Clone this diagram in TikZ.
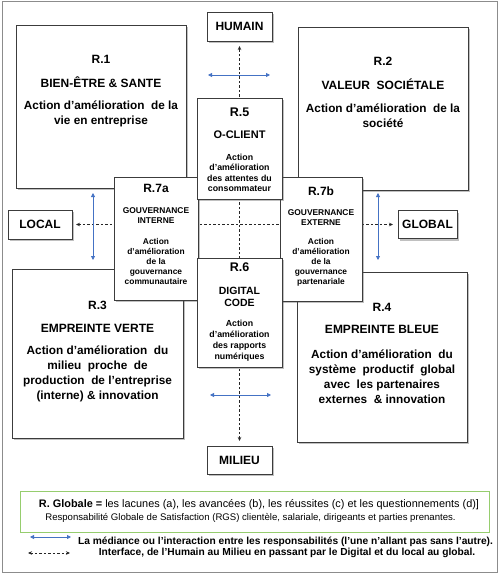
\documentclass[tikz,border=0pt]{standalone}
\usepackage{fontspec}
\setmainfont{Liberation Sans}
\usetikzlibrary{shadows,arrows.meta}
\definecolor{boxc}{RGB}{60,60,60}
\definecolor{blueA}{RGB}{68,114,196}
\definecolor{greenL}{RGB}{150,205,110}
\definecolor{frameC}{RGB}{140,140,140}
\newcommand\myfs[2]{\fontsize{#1}{#2}\selectfont}
\tikzset{
  box/.style={draw=boxc, line width=0.8pt, fill=white, inner sep=0pt, outer sep=0pt,
    drop shadow={shadow xshift=2pt, shadow yshift=-2pt, opacity=0.35, fill=black!70}},
  tx/.style={inner sep=0pt, align=center, font=\bfseries},
  bluearr/.style={draw=blueA, line width=0.8pt, {Triangle[length=4pt,width=4pt]}-{Triangle[length=4pt,width=4pt]}},
  dasharr/.style={draw=black!85, line width=0.7pt, dash pattern=on 2.5pt off 2pt, {Stealth[length=4pt,width=3.5pt]}-{Stealth[length=4pt,width=3.5pt]}},
}
\begin{document}
\begin{tikzpicture}[x=1pt,y=-1pt]
\useasboundingbox (0,0) rectangle (500,575);
\draw[frameC, line width=1pt, fill=white] (2,2) rectangle (497,572);

% small label boxes
\node[box, minimum width=65pt, minimum height=29pt, font=\bfseries\myfs{12}{14}] (humain) at (239.5,26.5) {HUMAIN};
\node[box, minimum width=64pt, minimum height=29pt, font=\bfseries\myfs{12}{14}] (local) at (40,224.5) {LOCAL};
\node[box, minimum width=59pt, minimum height=28pt, font=\bfseries\myfs{12}{14}] (global) at (427.5,224.5) {GLOBAL};
\node[box, minimum width=65pt, minimum height=28pt, font=\bfseries\myfs{12}{14}] (milieu) at (239.5,460) {MILIEU};

% dashed interface lines (behind boxes)
\draw[dasharr, shorten <=5pt, shorten >=5pt] (milieu.north) -- (humain.south);
\draw[dasharr, shorten <=4pt, shorten >=5pt] (local.east) -- (global.west);

% big boxes
\node[box, minimum width=170pt, minimum height=163pt] (r1) at (101,106.5) {};
\node[box, minimum width=170pt, minimum height=163pt] (r2) at (383,108.5) {};
\node[box, minimum width=171pt, minimum height=169pt] (r3) at (97.5,353.5) {};
\node[box, minimum width=170pt, minimum height=170pt] (r4) at (382,357) {};
% governance boxes
\node[box, minimum width=84pt, minimum height=123pt] (r7a) at (156,238.5) {};
\node[box, minimum width=82pt, minimum height=124pt] (r7b) at (321,239) {};
% central boxes
\node[box, minimum width=85pt, minimum height=101pt] (r5) at (239.5,148.5) {};
\node[box, minimum width=85pt, minimum height=109pt] (r6) at (239.5,312.5) {};

% R.1 texts
\node[tx, font=\bfseries\myfs{12}{15}] (t1a) at (101,59) {R.1};
\node[tx, font=\bfseries\myfs{12}{15}] (t1b) at (101,82) {BIEN-ÊTRE \& SANTE};
\node[tx, font=\bfseries\myfs{11.8}{15}] (t1c) at (101,114) {Action d’amélioration\ \ de la\\vie en entreprise};
% R.2 texts
\node[tx, font=\bfseries\myfs{12}{15}] (t2a) at (383,61) {R.2};
\node[tx, font=\bfseries\myfs{12}{15}] (t2b) at (383,84) {VALEUR\ \ SOCIÉTALE};
\node[tx, font=\bfseries\myfs{11.8}{15}] (t2c) at (383,116) {Action d’amélioration\ \ de la\\société};
% R.3 texts
\node[tx, font=\bfseries\myfs{12}{15}] (t3a) at (97.5,305) {R.3};
\node[tx, font=\bfseries\myfs{12}{15}] (t3b) at (97.5,328) {EMPREINTE VERTE};
\node[tx, font=\bfseries\myfs{11.8}{15}] (t3c) at (97.5,374) {Action d’amélioration\ \ du\\milieu\ \ proche\ \ de\\production\ \ de l’entreprise\\(interne) \& innovation};
% R.4 texts
\node[tx, font=\bfseries\myfs{12}{15}] (t4a) at (382,307) {R.4};
\node[tx, font=\bfseries\myfs{12}{15}] (t4b) at (382,329) {EMPREINTE BLEUE};
\node[tx, font=\bfseries\myfs{11.8}{15}] (t4c) at (382,377) {Action d’amélioration\ \ du\\système\ \ productif\ \ global\\avec\ \ les partenaires\\externes\ \ \& innovation};
% R.5 texts
\node[tx, font=\bfseries\myfs{12.5}{15}] (t5a) at (239.5,112) {R.5};
\node[tx, font=\bfseries\myfs{11}{14}] (t5b) at (239.5,135) {O-CLIENT};
\node[tx, font=\bfseries\myfs{8.8}{10.4}] (t5c) at (239.5,173) {Action\\d’amélioration\\des attentes du\\consommateur};
% R.6 texts
\node[tx, font=\bfseries\myfs{12.5}{15}] (t6a) at (239.5,267) {R.6};
\node[tx, font=\bfseries\myfs{10.5}{12}] (t6b) at (239.5,297) {DIGITAL\\CODE};
\node[tx, font=\bfseries\myfs{8.8}{11}] (t6c) at (239.5,341) {Action\\d’amélioration\\des rapports\\numériques};
% R.7a texts
\node[tx, font=\bfseries\myfs{12}{15}] (t7a) at (156,188) {R.7a};
\node[tx, font=\bfseries\myfs{8.4}{10}] (t7b) at (156,216) {GOUVERNANCE\\INTERNE};
\node[tx, font=\bfseries\myfs{8.4}{10}] (t7c) at (156,261) {Action\\d’amélioration\\de la\\gouvernance\\communautaire};
% R.7b texts
\node[tx, font=\bfseries\myfs{12}{15}] (t8a) at (321,191) {R.7b};
\node[tx, font=\bfseries\myfs{8.4}{10}] (t8b) at (321,217.5) {GOUVERNANCE\\EXTERNE};
\node[tx, font=\bfseries\myfs{8.4}{10}] (t8c) at (321,262) {Action\\d’amélioration\\de la\\gouvernance\\partenariale};

% blue mediance arrows
\coordinate (b1l) at (208,75); \coordinate (b1r) at (270,75);
\coordinate (b2l) at (210,395); \coordinate (b2r) at (271,395);
\coordinate (b3t) at (93,193); \coordinate (b3b) at (93,260);
\coordinate (b4t) at (378,193); \coordinate (b4b) at (378,260);
\draw[bluearr] (b1l) -- (b1r);
\draw[bluearr] (b2l) -- (b2r);
\draw[bluearr] (b3t) -- (b3b);
\draw[bluearr] (b4t) -- (b4b);

% legend
\node[draw=greenL, line width=1pt, minimum width=469pt, minimum height=41pt, inner sep=0pt] (leg) at (254.5,511.5) {};
\node[inner sep=0pt, font=\myfs{10.9}{12}] (l1) at (259,505) {\textbf{R. Globale =} les lacunes (a), les avancées (b), les réussites (c) et les questionnements (d)]};
\node[inner sep=0pt, font=\myfs{9.6}{12}] (l2) at (250.5,518) {Responsabilité Globale de Satisfaction (RGS) clientèle, salariale, dirigeants et parties prenantes.};
\coordinate (lb1) at (30,537); \coordinate (lb2) at (71,537);
\draw[bluearr] (lb1) -- (lb2);
\coordinate (ld1) at (28,553); \coordinate (ld2) at (70,553);
\draw[dasharr] (ld1) -- (ld2);
\node[inner sep=0pt, font=\bfseries\myfs{10.2}{12}] (l3) at (285.5,541.5) {La médiance ou l’interaction entre les responsabilités (l’une n’allant pas sans l’autre).};
\node[inner sep=0pt, font=\bfseries\myfs{10.2}{12}] (l4) at (287,553) {Interface, de l’Humain au Milieu en passant par le Digital et du local au global.};
\end{tikzpicture}
\end{document}
